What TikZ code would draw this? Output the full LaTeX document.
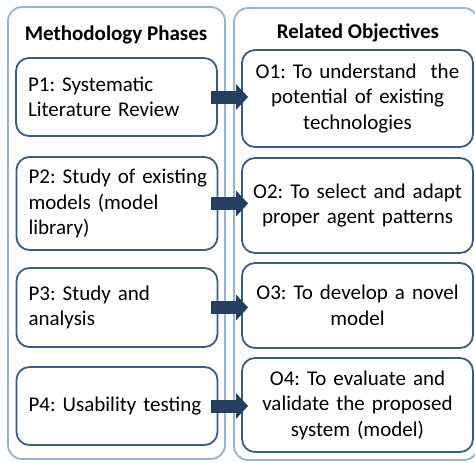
\documentclass[tikz,border=0pt]{standalone}
\usepackage{fontspec}
\setmainfont{Carlito}
\frenchspacing
\usetikzlibrary{arrows.meta}
\definecolor{panelblue}{HTML}{95B3D7}
\definecolor{boxblue}{HTML}{385D8A}
\definecolor{arrowblue}{HTML}{243F60}
\tikzset{
  panel/.style={draw=panelblue,line width=1.8pt,rounded corners=14pt},
  phasebox/.style={draw=boxblue,line width=1.8pt,rounded corners=13pt,
    minimum width=201pt,text width=177pt,align=left,inner xsep=12pt,inner ysep=0pt},
  objbox/.style={draw=boxblue,line width=1.8pt,rounded corners=13pt,
    minimum width=231pt,text width=225pt,align=center,inner sep=0pt},
  head/.style={font=\fontsize{21}{24}\selectfont\bfseries},
  bigarrow/.style={draw=arrowblue,line width=13pt,
    -{Triangle[width=25pt,length=12pt]},shorten <=-7pt,shorten >=-7pt}
}
\begin{document}
\begin{tikzpicture}[x=1pt,y=-1pt,font=\fontsize{21}{25.5}\selectfont]
      \clip (0,0) rectangle (475,463);
      \useasboundingbox (0,0) rectangle (475,463);
      % the two columns
      \node[panel,minimum width=217pt,minimum height=452pt] (phases) at (116.5,233) {};
      \node[panel,minimum width=244pt,minimum height=452pt] (objectives) at (356,234) {};
      \node[head] (phasestitle) at (116,35) {Methodology Phases};
      \node[head] (objtitle) at (358,33) {Related Objectives};
      % phases
      \node[phasebox,minimum height=78pt] (p1) at (116.5,97)
        {P1: Systematic\\Literature Review};
      \node[phasebox,minimum height=93pt] (p2) at (117,203.5)
        {\mbox{P2: Study of existing}\\models (model\\library)};
      \node[phasebox,minimum height=79pt] (p3) at (117,307.5)
        {P3: Study and\\analysis};
      \node[phasebox,minimum height=78pt] (p4) at (117,406)
        {P4: Usability testing};
      % objectives
      \node[objbox,minimum height=97pt] (o1) at (357.5,98.5)
        {O1: To understand\ \ the\\potential of existing\\technologies};
      \node[objbox,minimum height=95pt] (o2) at (357.5,205.5)
        {O2: To select and adapt\\proper agent patterns};
      \node[objbox,minimum height=85pt] (o3) at (357.5,305.5)
        {O3: To develop a novel\\model};
      \node[objbox,minimum height=94pt] (o4) at (357.5,405)
        {O4: To evaluate and\\validate the proposed\\system (model)};
      % links
      \foreach \i in {1,2,3,4}
        \draw[bigarrow] (p\i.east) -- (p\i.east -| o\i.west);
\end{tikzpicture}
\end{document}
